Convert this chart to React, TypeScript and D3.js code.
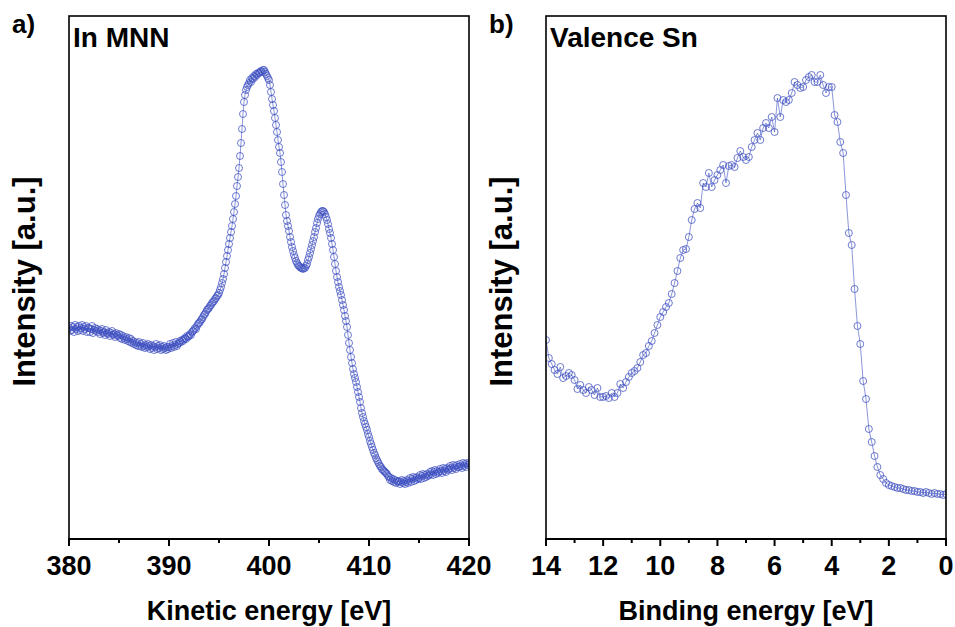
import React from 'react'
import * as d3 from 'd3'

// In MNN Auger spectrum, kinetic energy 380 -> 420 eV, 0.1 eV step
const mnnStart = 380
const mnnStep = 0.1
const mnnIntensity = [
  211, 208, 213, 209, 212, 207, 214, 210, 212, 208,
  213, 209, 211, 214, 208, 212, 210, 213, 207, 211,
  211, 207, 210, 213, 206, 209, 211, 208, 210, 207,
  209, 205, 208, 210, 206, 207, 204, 209, 206, 205,
  207, 203, 206, 208, 204, 205, 202, 206, 204, 203,
  205, 201, 204, 200, 203, 201, 199, 202, 200, 198,
  201, 197, 200, 196, 198, 195, 197, 194, 196, 193,
  197, 193, 195, 192, 196, 193, 191, 194, 192, 195,
  193, 190, 194, 191, 193, 189, 192, 195, 190, 193,
  191, 194, 189, 192, 190, 193, 191, 189, 192, 190,
  192, 195, 191, 193, 196, 192, 194, 197, 193, 195,
  196, 198, 197, 199, 198, 200, 201, 200, 203, 202,
  203, 205, 204, 207, 208, 209, 211, 210, 213, 215,
  216, 217, 219, 220, 222, 224, 225, 227, 229, 230,
  231, 233, 234, 236, 237, 238, 240, 241, 243, 244,
  246, 249, 252, 256, 260, 265, 271, 277, 283, 289,
  295, 301, 307, 313, 320, 327, 335, 343, 353, 362,
  371, 383, 396, 410, 425, 437, 444, 449, 452, 454,
  456, 459, 457, 461, 460, 463, 462, 465, 464, 466,
  466, 467, 468, 467, 469, 469, 467, 465, 463, 461,
  459, 454, 447, 440, 434, 428, 421, 414, 407, 399,
  392, 386, 377, 367, 355, 344, 334, 324, 318, 313,
  308, 302, 297, 292, 288, 284, 281, 278, 276, 274,
  273, 272, 271, 271, 270, 271, 271, 273, 275, 279,
  282, 286, 290, 294, 298, 302, 307, 311, 316, 320,
  323, 325, 327, 328, 328, 327, 325, 322, 319, 315,
  310, 306, 301, 295, 289, 282, 275, 268, 262, 257,
  252, 248, 244, 239, 234, 229, 223, 218, 212, 204,
  196, 189, 182, 176, 170, 165, 161, 157, 152, 147,
  142, 137, 131, 126, 122, 118, 115, 112, 109, 105,
  102, 98, 95, 92, 89, 86, 84, 81, 79, 77,
  75, 73, 72, 70, 69, 68, 67, 66, 65, 63,
  62, 59, 61, 58, 60, 57, 59, 56, 58, 57,
  58, 55, 57, 59, 56, 58, 55, 57, 59, 56,
  58, 61, 57, 60, 62, 58, 61, 59, 62, 60,
  61, 64, 60, 63, 65, 61, 64, 62, 65, 63,
  64, 67, 65, 68, 64, 67, 69, 65, 68, 66,
  67, 70, 68, 66, 71, 68, 70, 67, 71, 69,
  70, 73, 71, 69, 74, 71, 73, 70, 74, 72,
  72, 75, 73, 71, 76, 73, 75, 72, 76, 74,
  75
]

// Valence band Sn, binding energy 14 -> 0 eV, 0.1 eV step
const snStart = 14
const snStep = -0.1
const snIntensity = [
  199, 181, 175, 169, 165, 172, 161, 163, 166, 164,
  159, 150, 154, 149, 146, 152, 149, 144, 151, 142,
  142, 143, 141, 146, 142, 146, 155, 151, 157, 162,
  166, 168, 171, 177, 184, 186, 193, 198, 206, 214,
  222, 227, 232, 236, 245, 256, 268, 281, 289, 290,
  302, 319, 330, 336, 331, 356, 352, 366, 352, 359,
  364, 369, 374, 356, 373, 374, 372, 381, 388, 382,
  379, 382, 392, 399, 406, 399, 411, 416, 411, 422,
  407, 441, 422, 439, 437, 439, 446, 457, 454, 451,
  452, 459, 462, 464, 457, 457, 464, 454, 446, 452,
  452, 424, 417, 397, 386, 344, 306, 294, 250, 213,
  195, 158, 140, 110, 97, 83, 72, 64, 60, 56,
  54, 53, 52, 51, 51, 50, 49, 49, 48, 48,
  47, 47, 46, 47, 46, 45, 46, 45, 45, 44,
  45
]

const kineticTicks = [380, 390, 400, 410, 420]
const kineticMinor = [385, 395, 405, 415]
const bindingTicks = [14, 12, 10, 8, 6, 4, 2, 0]
const bindingMinor = [13, 11, 9, 7, 5, 3, 1]

const top = 16
const bottom = 539
const blue = '#3d4fc0'
const font = 'Liberation Sans, Arial, sans-serif'

type PanelProps = {
  id: string
  left: number
  right: number
  domain: [number, number]
  start: number
  step: number
  values: number[]
  ticks: number[]
  minor: number[]
  letter: string
  title: string
  xLabel: string
}

function Panel(p: PanelProps) {
  const x = d3.scaleLinear().domain(p.domain).range([p.left, p.right])
  const y = d3.scaleLinear().domain([0, 523]).range([bottom, top])
  const pts = p.values.map((v, i) => [x(p.start + i * p.step), y(v)] as [number, number])
  const line = d3.line()(pts) || ''
  const mid = (p.left + p.right) / 2
  return (
    <g>
      <defs>
        <clipPath id={p.id}>
          <rect x={p.left} y={top} width={p.right - p.left} height={bottom - top} />
        </clipPath>
      </defs>
      <g clipPath={`url(#${p.id})`}>
        <path d={line} fill='none' stroke={blue} strokeWidth={0.6} />
        {pts.map((d, i) => (
          <circle key={i} cx={d[0]} cy={d[1]} r={3.5} fill='none' stroke={blue} strokeWidth={0.75} />
        ))}
      </g>
      <rect x={p.left} y={top} width={p.right - p.left} height={bottom - top}
        fill='none' stroke='#000' strokeWidth={1.6} />
      <line x1={p.left - 1} x2={p.right + 1} y1={bottom} y2={bottom} stroke='#000' strokeWidth={2} />
      {p.ticks.map(t => (
        <g key={t}>
          <line x1={x(t)} x2={x(t)} y1={bottom} y2={bottom + 7} stroke='#000' strokeWidth={2} />
          <text x={x(t)} y={575} textAnchor='middle' fontFamily={font} fontWeight='bold' fontSize={27}>{t}</text>
        </g>
      ))}
      {p.minor.map(t => (
        <line key={t} x1={x(t)} x2={x(t)} y1={bottom} y2={bottom + 4} stroke='#000' strokeWidth={2} />
      ))}
      <text x={mid} y={620} textAnchor='middle' fontFamily={font} fontWeight='bold' fontSize={27}>{p.xLabel}</text>
      <text transform={`translate(${p.left - 34},${(top + bottom) / 2 + 4}) rotate(-90)`} textAnchor='middle'
        fontFamily={font} fontWeight='bold' fontSize={31}>Intensity [a.u.]</text>
      <text x={p.left - 57} y={33} fontFamily={font} fontWeight='bold' fontSize={26}>{p.letter}</text>
      <text x={p.left + 4} y={47} fontFamily={font} fontWeight='bold' fontSize={28}>{p.title}</text>
    </g>
  )
}

export default function App() {
  return (
    <svg width={955} height={627} style={{ position: 'absolute', left: 0, top: 0, background: '#fff' }}>
      <Panel id='clipA' left={69} right={469} domain={[380, 420]} start={mnnStart} step={mnnStep}
        values={mnnIntensity} ticks={kineticTicks} minor={kineticMinor}
        letter='a)' title='In MNN' xLabel='Kinetic energy [eV]' />
      <Panel id='clipB' left={546} right={946} domain={[14, 0]} start={snStart} step={snStep}
        values={snIntensity} ticks={bindingTicks} minor={bindingMinor}
        letter='b)' title='Valence Sn' xLabel='Binding energy [eV]' />
    </svg>
  )
}
